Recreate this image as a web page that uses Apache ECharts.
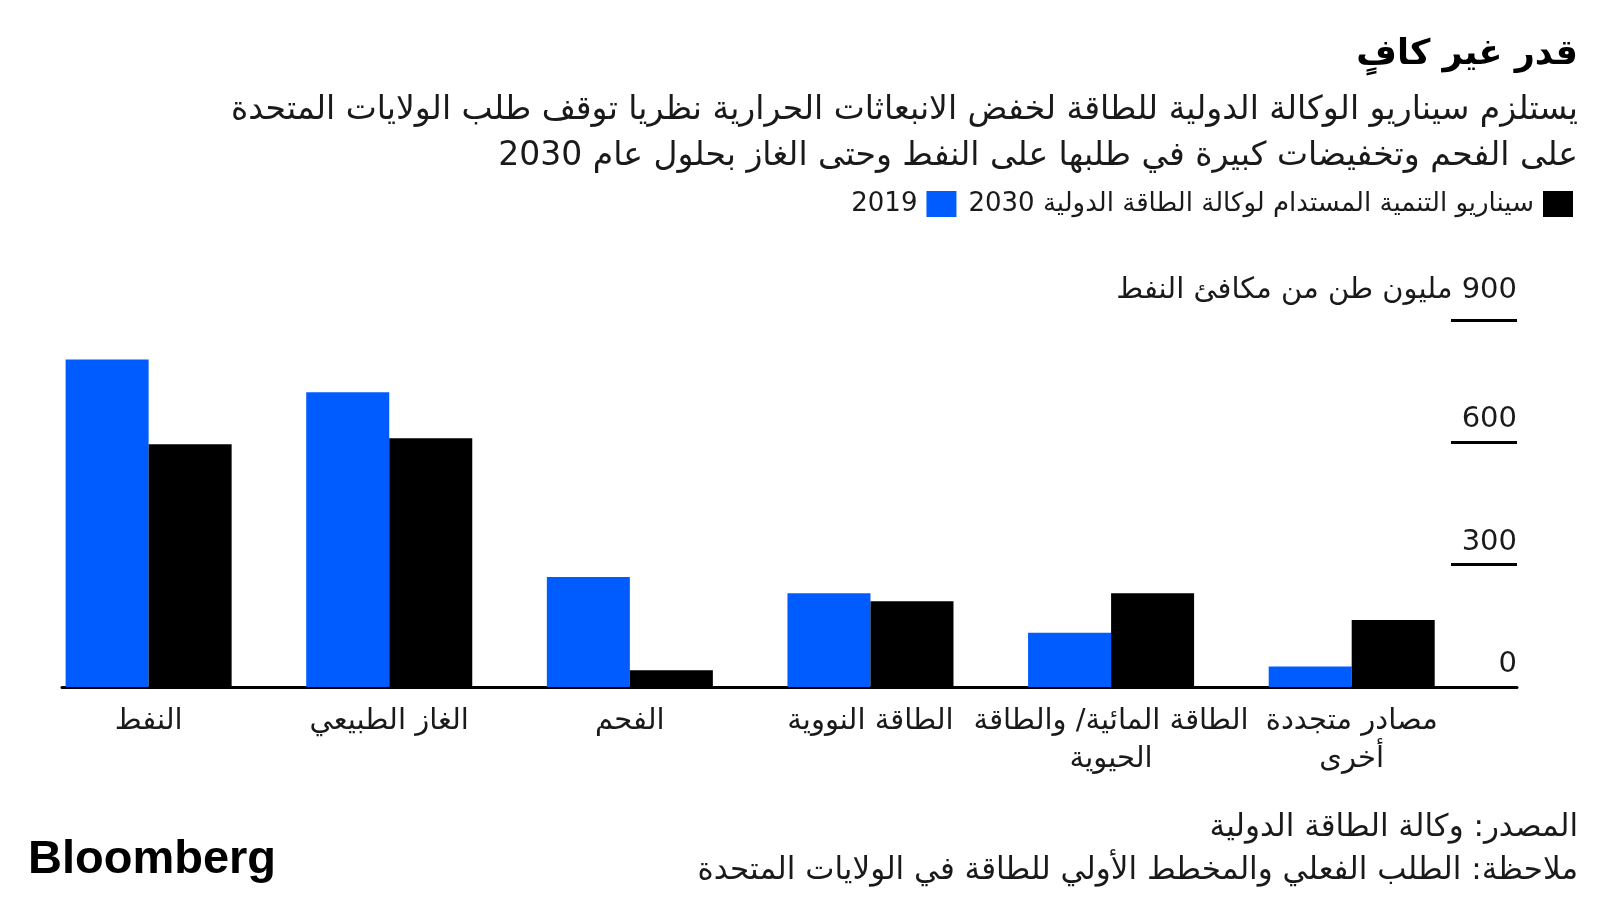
<!DOCTYPE html>
<html><head><meta charset="utf-8">
<script src="https://cdn.jsdelivr.net/npm/echarts@6/dist/echarts.min.js"></script>
<style>html,body{margin:0;padding:0;background:#fff}#c{width:1600px;height:900px}</style>
</head><body>
<div id="c" dir="rtl"></div>
<script>
// ---- data ----
const categories = ['النفط', 'الغاز الطبيعي', 'الفحم', 'الطاقة النووية', 'الطاقة المائية/ والطاقة\nالحيوية', 'مصادر متجددة\nأخرى'];
const values2019 = [803, 723, 270, 230, 133, 50];
const valuesSDS2030 = [595, 610, 41, 210, 230, 164];
const seriesNames = ['2019', 'سيناريو التنمية المستدام لوكالة الطاقة الدولية 2030'];
const yTicks = [0, 300, 600, 900];
const yUnit = 'مليون طن من مكافئ النفط';
const titleText = 'قدر غير كافٍ';
const subtitleText = 'يستلزم سيناريو الوكالة الدولية للطاقة لخفض الانبعاثات الحرارية نظريا توقف طلب الولايات المتحدة\nعلى الفحم وتخفيضات كبيرة في طلبها على النفط وحتى الغاز بحلول عام 2030';
const footText = 'المصدر: وكالة الطاقة الدولية\nملاحظة: الطلب الفعلي والمخطط الأولي للطاقة في الولايات المتحدة';
const brand = 'Bloomberg';

// ---- chart ----
const AR = "'DejaVu Sans', sans-serif";
const BLUE = '#005cff';
const TXT = '#1a1a1a';
const chart = echarts.init(document.getElementById('c'), null, {renderer: 'canvas'});
const catIdx = categories.map((c, i) => i);
const yMax = yTicks[yTicks.length - 1];
chart.setOption({
  backgroundColor: '#fff',
  animation: false,
  graphic: [
    {type: 'text', right: 22, top: 37,
     style: {text: titleText, fontFamily: AR, fontSize: 35, fontWeight: 'bold', fill: '#000', align: 'right', textAlign: 'right'}},
    {type: 'text', right: 22, top: 87,
     style: {text: subtitleText, fontFamily: AR, fontSize: 33, fill: TXT, align: 'right', textAlign: 'right', lineHeight: 46}},
    {type: 'text', right: 22, top: 806,
     style: {text: footText, fontFamily: AR, fontSize: 31, fill: TXT, align: 'right', textAlign: 'right', lineHeight: 43}},
    {type: 'text', left: 28, top: 837,
     style: {text: brand, fontFamily: "'Liberation Sans', Arial, sans-serif", fontSize: 47, fontWeight: 'bold', fill: '#000'}}
  ],
  legend: {
    right: 22, top: 186, align: 'right', itemWidth: 30, itemHeight: 26, itemGap: 12,
    icon: 'rect', data: [seriesNames[0], seriesNames[1]],
    textStyle: {fontFamily: AR, fontSize: 26, color: TXT, padding: [0, 4, 0, 0]}
  },
  grid: {left: 62, right: 83, top: 320, bottom: 213, containLabel: false},
  xAxis: {
    type: 'value', min: -0.36, max: 5.687,
    axisLine: {show: true, onZero: false, lineStyle: {color: '#000', width: 3}},
    axisTick: {show: false},
    splitLine: {show: false},
    axisLabel: {
      customValues: catIdx, margin: 15, fontFamily: AR, fontSize: 29, lineHeight: 38, color: TXT,
      formatter: v => categories[Math.round(v)]
    }
  },
  yAxis: {
    type: 'value', position: 'right', min: yTicks[0], max: yMax, interval: yTicks[1] - yTicks[0],
    axisLine: {show: false, onZero: false},
    axisTick: {show: true, inside: true, length: 66, lineStyle: {color: '#000', width: 3}},
    splitLine: {show: false},
    axisLabel: {
      inside: true, margin: 0, align: 'right', verticalAlign: 'bottom', padding: [0, 0, 8, 0],
      fontFamily: AR, fontSize: 29, color: TXT,
      formatter: v => v === yMax ? '{top|' + v + ' ' + yUnit + '}' : String(v),
      rich: {top: {fontFamily: AR, fontSize: 29, color: TXT, padding: [0, 0, 7, 0]}}
    }
  },
  series: [
    {name: seriesNames[0], type: 'bar', data: values2019.map((v, i) => [i, v]),
     itemStyle: {color: BLUE}, barGap: '0%', barCategoryGap: '31%'},
    {name: seriesNames[1], type: 'bar', data: valuesSDS2030.map((v, i) => [i, v]),
     itemStyle: {color: '#000'}, barGap: '0%', barCategoryGap: '31%'}
  ]
});
</script>
</body></html>
